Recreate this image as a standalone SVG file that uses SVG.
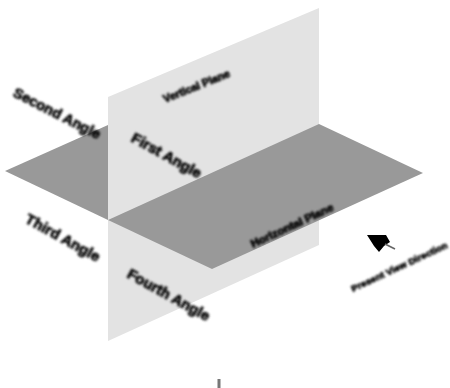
<svg xmlns="http://www.w3.org/2000/svg" width="450" height="388" viewBox="0 0 450 388">
<defs><filter id="b" x="-10%" y="-60%" width="120%" height="220%"><feGaussianBlur stdDeviation="0.9"/></filter>
<filter id="s" x="-5%" y="-5%" width="110%" height="110%"><feGaussianBlur stdDeviation="0.7"/></filter></defs>
<style>
text{font-family:"Liberation Sans",Arial,sans-serif;font-weight:bold;fill:#000;stroke:#000;stroke-width:.7px;filter:url(#b)}
.a{font-size:14.500px}.p{font-size:10.500px}.d{font-size:9.500px}
.h{fill:#999}.v{fill:#e3e3e3}
</style>
<rect width="450" height="388" fill="#fff"/>
<g id="planes" filter="url(#s)">
<polygon class="h" points="5,171 108,125 108,220"/>
<polygon class="v" points="108,97 319,8 319,245 108,341"/>
<polygon class="h" points="108,220 319,124 423,173 212,269"/>
</g>
<g id="second-angle"><text class="a" textLength="96" lengthAdjust="spacingAndGlyphs" transform="translate(12,96) rotate(27)">Second Angle</text></g>
<g id="first-angle"><text class="a" textLength="78" lengthAdjust="spacingAndGlyphs" transform="translate(130,141) rotate(29)">First Angle</text></g>
<g id="third-angle"><text class="a" textLength="83" lengthAdjust="spacingAndGlyphs" transform="translate(24,222) rotate(29)">Third Angle</text></g>
<g id="fourth-angle"><text class="a" textLength="92" lengthAdjust="spacingAndGlyphs" transform="translate(126,277) rotate(29)">Fourth Angle</text></g>
<g id="vertical-plane"><text class="p" textLength="71" lengthAdjust="spacingAndGlyphs" transform="translate(165,103) rotate(-22)">Vertical Plane</text></g>
<g id="horizontal-plane"><text class="p" textLength="90" lengthAdjust="spacingAndGlyphs" transform="translate(253,248) rotate(-25)">Horizontal Plane</text></g>
<g id="direction"><text class="d" textLength="105" lengthAdjust="spacing" transform="translate(353,292) rotate(-25)">Present View Direction</text></g>
<g id="connectors">
<g filter="url(#s)">
<polygon points="367,235 386,235 390,242 384,246 379,252 374,246" fill="#000"/>
<line x1="385" y1="244" x2="395" y2="249" stroke="#666" stroke-width="1.6"/>
</g>
</g>
<rect id="mark" x="217.500" y="379" width="3" height="9" fill="#777" filter="url(#s)"/>
</svg>
